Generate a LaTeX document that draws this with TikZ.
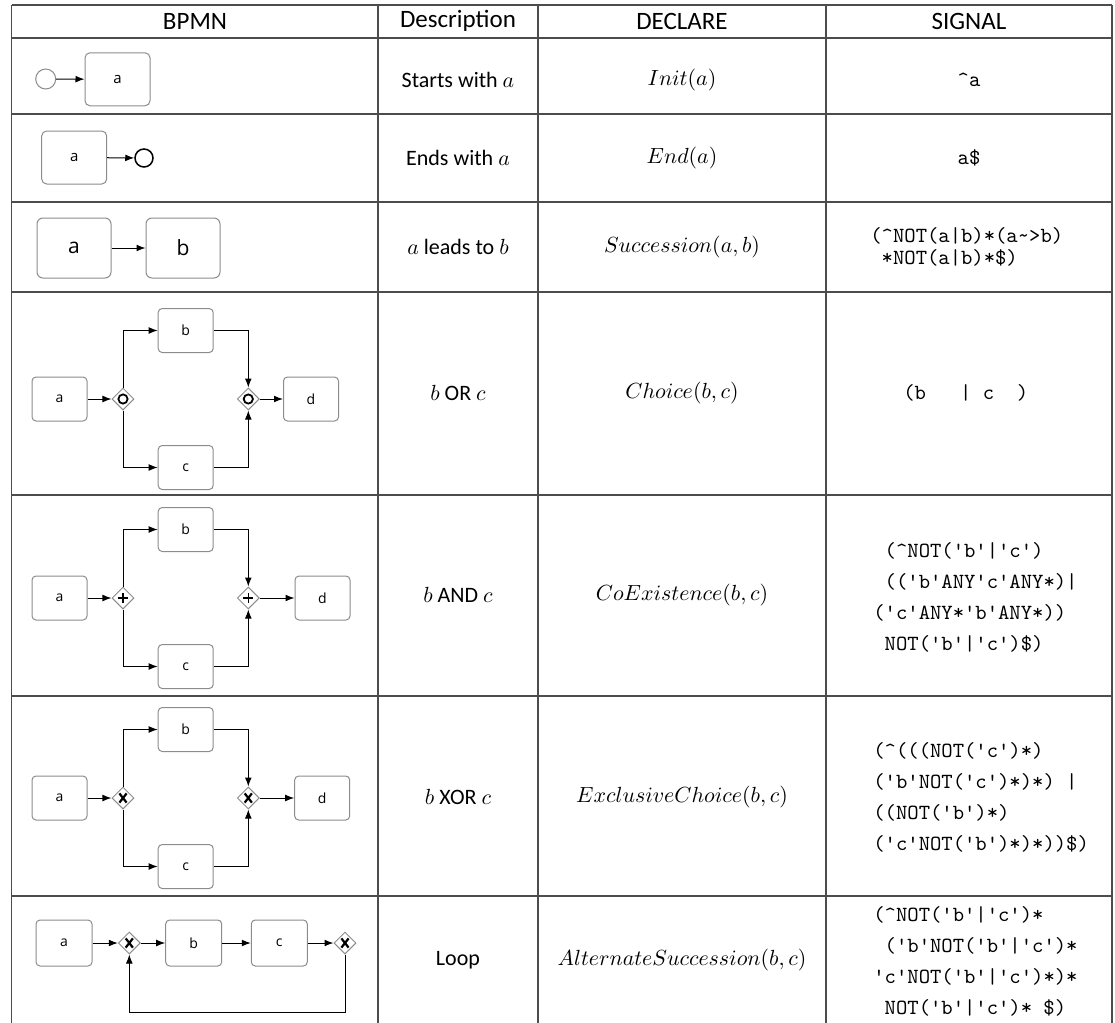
\documentclass[tikz,border=0pt]{standalone}
\usepackage{fontspec}
\setmainfont{Carlito}
\newfontfamily\bpmnfont{Open Sans}
\usetikzlibrary{shapes.geometric,arrows.meta}

\begin{document}
\begin{tikzpicture}[x=0.5pt,y=-0.5pt,>={Latex[length=4.5pt,width=3.4pt]},
  font=\fontsize{11}{13}\selectfont,
  tline/.style={draw=black!70,line width=0.6pt},
  head/.style={font=\fontsize{12.5}{14}\selectfont},
  task/.style={draw=black!45,line width=0.5pt,rounded corners=2pt,minimum width=27.5pt,minimum height=22pt,inner sep=0pt,font=\bpmnfont\fontsize{7}{8}\selectfont},
  taskmd/.style={task,minimum width=32.5pt,minimum height=26.5pt,rounded corners=2.5pt,font=\bpmnfont\fontsize{7.5}{8}\selectfont},
  tasklg/.style={task,minimum width=37pt,minimum height=30pt,rounded corners=3pt,font=\bpmnfont\fontsize{10.5}{12}\selectfont},
  event/.style={circle,draw=black!45,line width=0.5pt,minimum size=10pt,inner sep=0pt},
  gate/.style={diamond,draw=black!45,line width=0.5pt,minimum size=11pt,inner sep=0pt},
  flow/.style={->,line width=0.5pt},
  sig/.style={font=\ttfamily\fontsize{10.8}{15.5}\selectfont,align=left,anchor=west,inner sep=0pt},
  gor/.pic={\draw[line width=0.9pt] (0,0) circle (2.3pt);},
  gand/.pic={\draw[line width=0.8pt] (0,-2.5pt) -- (0,2.5pt) (-2.5pt,0) -- (2.5pt,0);},
  gxor/.pic={\draw[line width=1.1pt] (-1.8pt,-2.3pt) -- (1.8pt,2.3pt) (-1.8pt,2.3pt) -- (1.8pt,-2.3pt);}]
 \useasboundingbox (0,0) rectangle (1115,1023);
 % ---- table grid ----
 \foreach \y in {5,38,114,202,292,495,696,896} \draw[tline] (11.5,\y) -- (1112,\y);
 \foreach \x in {11.5,378,538,826,1112} \draw[tline] (\x,5) -- (\x,1023);
 \node[head] (hbpmn) at (195,21) {BPMN};
 \node[head] (hdesc) at (458,21) {Description};
 \node[head] (hdecl) at (682,21) {DECLARE};
 \node[head] (hsig) at (969,21) {SIGNAL};
 % ---- start / end ----
 \node[event] (st1) at (45.7,79) {};
 \node[taskmd] (a1) at (117.5,79.3) {a};
 \draw[flow] (st1) -- (a1);
 \node[taskmd] (a2) at (74.2,157.5) {a};
 \node[event,draw=black,line width=0.75pt,minimum size=9pt] (en2) at (144,158) {};
 \draw[flow] (a2) -- (en2);
 % ---- succession ----
 \node[tasklg] (a3) at (74,248) {a};
 \node[tasklg] (b3) at (183,248) {b};
 \draw[flow] (a3) -- (b3);
 % ---- split / join rows (or, and, xor) ----
 \foreach \r/\yc/\xd/\gt in {4/399/311/gor, 5/598/322.5/gand, 6/798/322.2/gxor} {
   \node[task] (a\r) at (59.5,\yc) {a};
   \node[gate] (gs\r) at (123,\yc) {};
   \node[task] (b\r) at (185.7,\yc-68.5) {b};
   \node[task] (c\r) at (185.7,\yc+68.5) {c};
   \node[gate] (gj\r) at (248.3,\yc) {};
   \node[task] (d\r) at (\xd,\yc) {d};
   \pic at (gs\r) {\gt}; \pic at (gj\r) {\gt};
   \draw[flow] (a\r) -- (gs\r);
   \draw[flow] (gs\r.north) |- (b\r);
   \draw[flow] (gs\r.south) |- (c\r);
   \draw[flow] (b\r) -| (gj\r.north);
   \draw[flow] (c\r) -| (gj\r.south);
   \draw[flow] (gj\r) -- (d\r);
 }
 % ---- loop ----
 \node[task,minimum width=28pt,minimum height=23pt] (a7) at (64,943) {a};
 \node[gate] (gs7) at (129.3,943) {};
 \node[task,minimum width=28pt,minimum height=23pt] (b7) at (193.7,943) {b};
 \node[task,minimum width=28pt,minimum height=23pt] (c7) at (279.3,943) {c};
 \node[gate] (gj7) at (345,943) {};
 \coordinate (lp7) at (345,1012);
 \pic at (gs7) {gxor}; \pic at (gj7) {gxor};
 \draw[flow] (a7) -- (gs7);
 \draw[flow] (gs7) -- (b7);
 \draw[flow] (b7) -- (c7);
 \draw[flow] (c7) -- (gj7);
 \draw[flow] (gj7.south) -- (lp7) -| (gs7.south);
 % ---- description / declare ----
 \foreach \i/\y/\dsc/\dcl in {1/80/{Starts with $a$}/{$Init(a)$}, 2/158/{Ends with $a$}/{$End(a)$},
   3/247/{$a$ leads to $b$}/{$Succession(a,b)$}, 4/393/{$b$ OR $c$}/{$Choice(b,c)$},
   5/595/{$b$ AND $c$}/{$CoExistence(b,c)$}, 6/797/{$b$ XOR $c$}/{$ExclusiveChoice(b,c)$},
   7/960/Loop/{$AlternateSuccession(b,c)$}} {
   \node (desc\i) at (458,\y) {\dsc};
   \node (decl\i) at (682,\y) {\dcl};
 }
 % ---- signal ----
 \node[sig,anchor=center] (sig1) at (969,80) {\textasciicircum a};
 \node[sig,anchor=center] (sig2) at (969,158) {a\$};
 \node[sig,font=\ttfamily\fontsize{10.8}{11}\selectfont] (sig3) at (870,247)
   {(\textasciicircum NOT(a|b)*(a\textasciitilde>b)\\~*NOT(a|b)*\$)};
 \node[sig] (sig4) at (903,393) {(b~~~|~c~~)};
 \node[sig] (sig5) at (873,597)
   {~(\textasciicircum NOT('b'|'c')\\~(('b'ANY'c'ANY*)|\\('c'ANY*'b'ANY*))\\~NOT('b'|'c')\$)};
 \node[sig] (sig6) at (873,797)
   {(\textasciicircum(((NOT('c')*)\\('b'NOT('c')*)*)~|\\((NOT('b')*)\\('c'NOT('b')*)*))\$)};
 \node[sig] (sig7) at (873,961)
   {(\textasciicircum NOT('b'|'c')*\\~('b'NOT('b'|'c')*\\'c'NOT('b'|'c')*)*\\~NOT('b'|'c')*~\$)};
\end{tikzpicture}
\end{document}
